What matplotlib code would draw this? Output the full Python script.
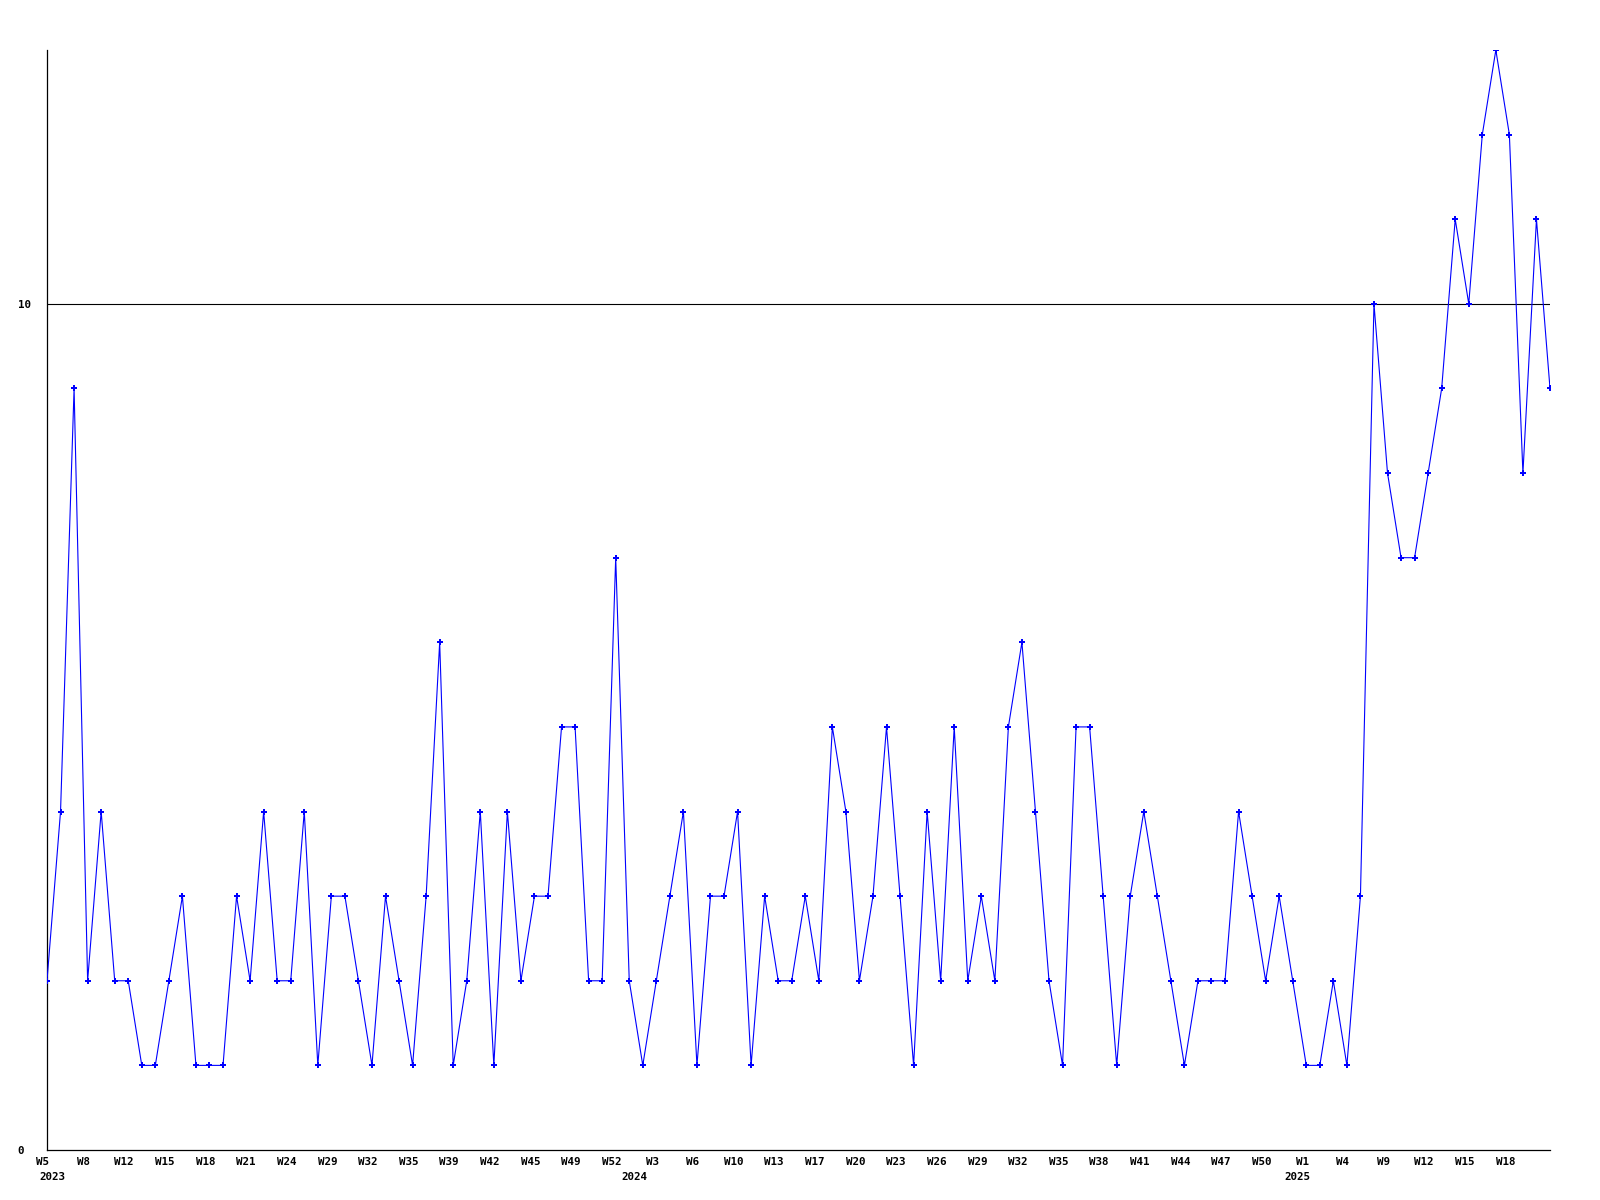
import matplotlib
matplotlib.use("Agg")
import matplotlib.pyplot as plt
import matplotlib.transforms as mtransforms

# Weekly values (one per plotted week, in order)
values = [2, 4, 9, 2, 4, 2, 2, 1, 1, 2, 3, 1, 1, 1, 3, 2, 4, 2, 2, 4,
          1, 3, 3, 2, 1, 3, 2, 1, 3, 6, 1, 2, 4, 1, 4, 2, 3, 3, 5, 5,
          2, 2, 7, 2, 1, 2, 3, 4, 1, 3, 3, 4, 1, 3, 2, 2, 3, 2, 5, 4,
          2, 3, 5, 3, 1, 4, 2, 5, 2, 3, 2, 5, 6, 4, 2, 1, 5, 5, 3, 1,
          3, 4, 3, 2, 1, 2, 2, 2, 4, 3, 2, 3, 2, 1, 1, 2, 1, 3, 10, 8,
          7, 7, 8, 9, 11, 10, 12, 13, 12, 8, 11, 9]

# Week tick labels, shown on every third point
week_labels = ["W5", "W8", "W12", "W15", "W18", "W21", "W24", "W29", "W32",
               "W35", "W39", "W42", "W45", "W49", "W52", "W3", "W6", "W10",
               "W13", "W17", "W20", "W23", "W26", "W29", "W32", "W35", "W38",
               "W41", "W44", "W47", "W50", "W1", "W4", "W9", "W12", "W15",
               "W18"]
label_step = 3

# Year labels and the point index where each is written
year_labels = ["2023", "2024", "2025"]
year_index = [0, 43, 92]

y_ticks = [0, 10]

fig = plt.figure(figsize=(16, 12), dpi=100)
ax = fig.add_axes([47 / 1600, 1 - 1150 / 1200, (1550 - 47) / 1600, (1150 - 50) / 1200])

x = list(range(len(values)))
ax.axhline(10, color="black", linewidth=0.8, zorder=1)
ax.plot(x, values, color="#0000ff", linewidth=0.8, marker="P", markersize=3.8,
        markeredgewidth=0, zorder=3)

ax.set_xlim(0, len(values) - 1)
ax.set_ylim(0, 13)

for side in ("top", "right"):
    ax.spines[side].set_visible(False)
for side in ("left", "bottom"):
    ax.spines[side].set_color("black")
    ax.spines[side].set_linewidth(0.9)

font = dict(family="DejaVu Sans Mono", weight="bold", size=7.8)

ax.xaxis.remove_overlapping_locs = False
ax.set_xticks([i * label_step for i in range(len(week_labels))])
ax.set_xticklabels(week_labels, **font)
ax.set_xticks(year_index, minor=True)
ax.set_xticklabels(year_labels, minor=True, **font)
ax.tick_params(axis="x", which="major", length=0, pad=5)
ax.tick_params(axis="x", which="minor", length=0, pad=16)

ax.set_yticks(y_ticks)
ax.set_yticklabels([str(v) for v in y_ticks], **font)
ax.tick_params(axis="y", length=0, pad=21)
for lbl in ax.get_yticklabels():
    lbl.set_horizontalalignment("left")

offset = mtransforms.ScaledTranslation(-4 / 100, 0, fig.dpi_scale_trans)
for lbl in ax.get_xticklabels():
    lbl.set_transform(lbl.get_transform() + offset)
year_offset = mtransforms.ScaledTranslation(-8 / 100, 0, fig.dpi_scale_trans)
for lbl in ax.get_xticklabels(minor=True):
    lbl.set_horizontalalignment("left")
    lbl.set_transform(lbl.get_transform() + year_offset)

fig.savefig("out.png", dpi=100, facecolor="white")
